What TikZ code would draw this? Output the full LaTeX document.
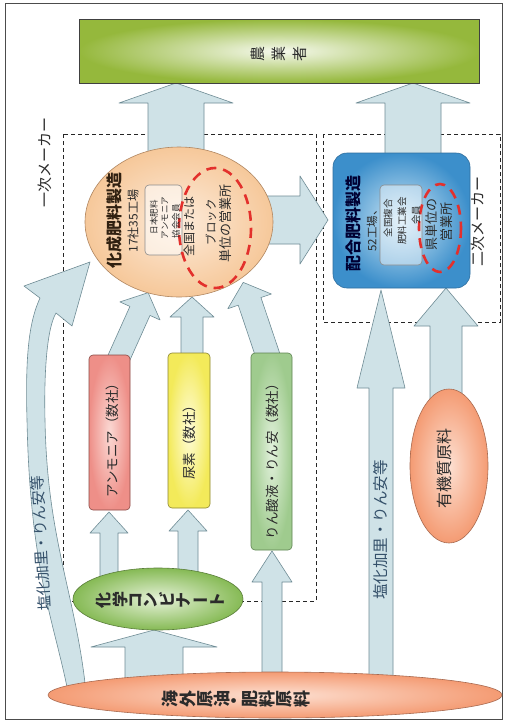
\documentclass[tikz,border=0pt]{standalone}
\usepackage{fontspec}
\usepackage{graphicx}
\setmainfont{Noto Sans CJK JP}
\usetikzlibrary{shapes.geometric}
\definecolor{afill}{HTML}{CFE2E7}
\definecolor{aline}{HTML}{6F8C95}
\definecolor{dashred}{HTML}{E3302C}
\definecolor{txt}{HTML}{2B2B2B}
\definecolor{bluetxt}{HTML}{34506A}
\definecolor{gouter}{HTML}{95B83C}\definecolor{ginner}{HTML}{F6F9EE}
\definecolor{kouter}{HTML}{F6C89A}\definecolor{kinner}{HTML}{FDEBDA}\definecolor{kline}{HTML}{B08660}
\definecolor{bouter}{HTML}{3C8FCB}\definecolor{binner}{HTML}{CFE8F6}\definecolor{bline}{HTML}{2F6E9E}
\definecolor{pouter}{HTML}{EE8F88}\definecolor{pinner}{HTML}{FBD9D4}\definecolor{pline}{HTML}{8A4A45}
\definecolor{youter}{HTML}{F3EA5A}\definecolor{yinner}{HTML}{FFFCD8}\definecolor{yline}{HTML}{8C8530}
\definecolor{louter}{HTML}{9FCB8E}\definecolor{linner}{HTML}{E2F1DC}\definecolor{lline}{HTML}{5E8452}
\definecolor{couter}{HTML}{86BA55}\definecolor{cinner}{HTML}{E6F2D9}\definecolor{cline}{HTML}{5A7E3A}
\definecolor{oouter}{HTML}{F49B73}\definecolor{oinner}{HTML}{FDE0D2}\definecolor{oline}{HTML}{A86A50}
\newcommand{\rotch}[1]{\rotatebox[origin=c]{90}{#1}}
\newcommand{\fatarrow}[7]{%
 \begin{scope}[shift={(#1,#2)},rotate=#3]
 \draw[fatarr] (0,-#5) -- ({#4-#7},-#5) -- ({#4-#7},-#6) -- (#4,0) -- ({#4-#7},#6) -- ({#4-#7},#5) -- (0,#5) -- cycle;
 \end{scope}}
\tikzset{
 fatarr/.style={fill=afill, draw=aline, line width=0.6pt, line join=round},
 mgroup/.style={draw=black!85, dash pattern=on 4pt off 3pt, line width=0.7pt},
 redring/.style={draw=dashred, line width=2.6pt, dash pattern=on 10pt off 7pt},
 vlabel/.style={rotate=90, text=txt, inner sep=0pt},
 shapebox/.style={line width=0.6pt, inner sep=0pt},
}
\begin{document}
\begin{tikzpicture}[x=1pt,y=-1pt]
\useasboundingbox (0,0) rectangle (512,724);
\fill[white] (0,0) rectangle (512,724);
\draw[black!70, line width=0.8pt] (5,3) rectangle (502,719);
% groups
\draw[mgroup] (63,134) rectangle (316,601);
\draw[mgroup] (323,134) rectangle (500,322);
% left curved arrow
\draw[fatarr] (68,692) .. controls (55,625) and (30,570) .. (27,420)
  .. controls (25,350) and (30,320) .. (40,298) -- (24,286) -- (90,262) -- (72,326) -- (56,313)
  .. controls (46,330) and (44,380) .. (45,420) .. controls (47,540) and (76,595) .. (86,692) -- cycle;
% straight arrows
\fatarrow{176}{160}{90}{77}{28}{57}{20}
\fatarrow{413}{160}{90}{77}{28}{57}{20}
\fatarrow{255}{220}{0}{73}{24}{44}{28}
\fatarrow{117}{362}{65.8}{76}{11}{22}{20}
\fatarrow{192}{360}{90}{63}{11}{22}{20}
\fatarrow{270}{362}{108.6}{84}{12}{23}{20}
\fatarrow{109}{585}{90}{73}{9}{19}{21}
\fatarrow{188}{585}{90}{75}{10}{19}{21}
\fatarrow{154}{685}{90}{55}{29}{63}{17}
\fatarrow{272}{685}{90}{134}{10}{20}{31}
\fatarrow{381}{685}{90}{395}{12}{24}{98}
\fatarrow{446}{400}{90}{112}{16}{32}{38}
% shapes
\node[shapebox, draw=black!75, inner color=ginner, outer color=gouter, minimum width=400, minimum height=64] (farm) at (279,51) {};
\node[shapebox, ellipse, draw=kline, inner color=kinner, outer color=kouter, minimum width=188, minimum height=150] (kasei) at (179,222) {};
\node[shapebox, draw=bline, rounded corners=14pt, inner color=binner, outer color=bouter, minimum width=137, minimum height=135] (haigo) at (401.5,220.5) {};
\node[shapebox, draw=pline, rounded corners=4pt, inner color=pinner, outer color=pouter, minimum width=41, minimum height=155] (ammonia) at (109.5,432.5) {};
\node[shapebox, draw=yline, rounded corners=4pt, inner color=yinner, outer color=youter, minimum width=42, minimum height=155] (urea) at (189,430.5) {};
\node[shapebox, draw=lline, rounded corners=4pt, inner color=linner, outer color=louter, minimum width=41, minimum height=197] (rinsan) at (271.5,451.5) {};
\node[shapebox, ellipse, draw=cline, inner color=cinner, outer color=couter, minimum width=170, minimum height=62] (kombi) at (158,599) {};
\node[shapebox, ellipse, draw=oline, inner color=oinner, outer color=oouter, minimum width=454, minimum height=46] (overseas) at (275,695) {};
\node[shapebox, ellipse, draw=oline, inner color=oinner, outer color=oouter, minimum width=78, minimum height=154] (yuki) at (449,466) {};
% inner member boxes
\node[shapebox, draw=black!45, fill=white, fill opacity=0.55, rounded corners=4pt, minimum width=37, minimum height=70] (kmember) at (163.5,220) {};
\node[shapebox, draw=black!45, fill=white, fill opacity=0.45, rounded corners=4pt, minimum width=42, minimum height=80] (hmember) at (401,225) {};
% red rings
\draw[redring] (215,228) ellipse [x radius=36, y radius=60];
\draw[redring] (440,228) ellipse [x radius=21, y radius=44];
% texts: top box
\node[text=txt, font=\fontsize{15}{15}\selectfont] (farmtxt) at (279,54) {\rotch{農}\kern7pt\rotch{業}\kern7pt\rotch{者}};
% kasei texts
\node[vlabel, text=black!75!brown, font=\fontsize{16}{16}\selectfont\bfseries] (k1) at (114,220) {化成肥料製造};
\node[vlabel, font=\fontsize{12}{12}\selectfont] (k2) at (133,221) {17社35工場};
\node[vlabel, font=\fontsize{8.5}{8.5}\selectfont] (k3) at (154,217) {日本肥料};
\node[vlabel, font=\fontsize{8.5}{8.5}\selectfont] (k4) at (165,218) {アンモニア};
\node[vlabel, font=\fontsize{8.5}{8.5}\selectfont] (k5) at (176,221) {協会会員};
\node[vlabel, font=\fontsize{12}{12}\selectfont] (k6) at (189,226) {全国または};
\node[vlabel, font=\fontsize{11.5}{11.5}\selectfont] (k7) at (211,222) {ブロック};
\node[vlabel, font=\fontsize{13}{13}\selectfont] (k8) at (226,223) {単位の営業所};
% haigo texts
\node[vlabel, text=black!80!blue, font=\fontsize{16}{16}\selectfont\bfseries] (h1) at (353,223) {配合肥料製造};
\node[vlabel, font=\fontsize{11.5}{11.5}\selectfont] (h2) at (372,228) {52工場、};
\node[vlabel, font=\fontsize{9.5}{9.5}\selectfont] (h3) at (388,218) {全国複合};
\node[vlabel, font=\fontsize{9.5}{9.5}\selectfont] (h4) at (402,221) {肥料工業会};
\node[vlabel, font=\fontsize{9.5}{9.5}\selectfont] (h5) at (416,215) {会員};
\node[vlabel, font=\fontsize{13}{13}\selectfont] (h6) at (432,224) {県単位の};
\node[vlabel, font=\fontsize{13}{13}\selectfont] (h7) at (447,222) {営業所};
% group labels
\node[vlabel, font=\fontsize{15}{15}\selectfont] (g1) at (45,162) {一次メーカー};
\node[vlabel, font=\fontsize{15}{15}\selectfont] (g2) at (478,221) {二次メーカー};
% boxes
\node[vlabel, font=\fontsize{13.5}{13.5}\selectfont] (t1) at (112,437) {アンモニア（数社）};
\node[vlabel, font=\fontsize{13.5}{13.5}\selectfont] (t2) at (189,439) {尿素（数社）};
\node[vlabel, font=\fontsize{13.5}{13.5}\selectfont] (t3) at (272,458) {りん酸液・りん安（数社）};
\node[vlabel, font=\fontsize{16}{16}\selectfont] (t4) at (444,468) {有機質原料};
% arrow labels
\node[vlabel, text=bluetxt, font=\fontsize{15.5}{15.5}\selectfont] (a1) at (381,530) {塩化加里・りん安等};
\node[vlabel, rotate=3, text=bluetxt, font=\fontsize{15}{15}\selectfont] (a2) at (41,543) {塩化加里・りん安等};
% bottom ellipses text
\node[text=txt, font=\fontsize{16}{16}\selectfont\bfseries] (c1) at (160,600) {\rotch{化}\kern2pt\rotch{学}\kern2pt\rotch{コ}\kern2pt\rotch{ン}\kern2pt\rotch{ビ}\kern2pt\rotch{ナ}\kern2pt ー\kern2pt\rotch{ト}};
\node[text=txt, font=\fontsize{17}{17}\selectfont\bfseries] (c2) at (236,700) {\rotch{海}\kern1.5pt\rotch{外}\kern1.5pt\rotch{原}\kern1.5pt\rotch{油}\kern1.5pt\rotch{・}\kern1.5pt\rotch{肥}\kern1.5pt\rotch{料}\kern1.5pt\rotch{原}\kern1.5pt\rotch{料}};
\end{tikzpicture}
\end{document}
